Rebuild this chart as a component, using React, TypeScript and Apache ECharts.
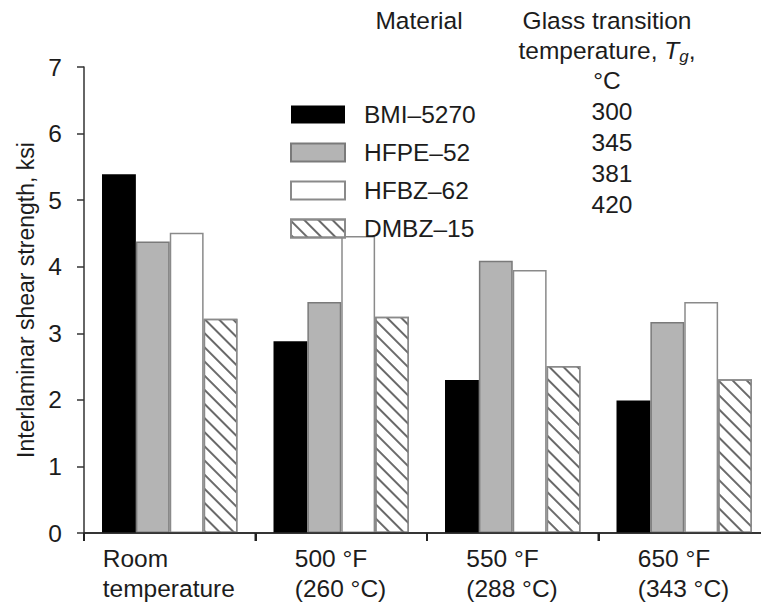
import React, { useEffect, useRef } from "react";
import * as echarts from "echarts";

const categories = ["Room\ntemperature", "500 °F\n(260 °C)", "550 °F\n(288 °C)", "650 °F\n(343 °C)"];
const materials = ["BMI–5270", "HFPE–52", "HFBZ–62", "DMBZ–15"];
const tgValues = ["300", "345", "381", "420"];
const bmi5270 = [5.39, 2.88, 2.3, 1.99];
const hfpe52 = [4.38, 3.47, 4.09, 3.17];
const hfbz62 = [4.51, 4.46, 3.95, 3.47];
const dmbz15 = [3.22, 3.25, 2.51, 2.31];
const seriesValues = [bmi5270, hfpe52, hfbz62, dmbz15];
const yTicks = [0, 1, 2, 3, 4, 5, 6, 7];

const FONT = "'Liberation Sans', Arial, Helvetica, sans-serif";
const FS = 24.5;
const TXT = "#1c1c1c";

function measure(s: string): number {
  const c = document.createElement("canvas").getContext("2d");
  if (!c) return s.length * FS * 0.55;
  c.font = `${FS}px ${FONT}`;
  return c.measureText(s).width;
}

export default function App() {
  const ref = useRef<HTMLDivElement>(null);
  useEffect(() => {
    document.body.style.margin = "0";
    if (!ref.current) return;
    const chart = echarts.init(ref.current, null, { renderer: "svg" });

    const rich: Record<string, any> = {};
    categories.forEach((c, i) => {
      const w = Math.max(...c.split("\n").map(measure));
      rich["c" + i] = { width: Math.ceil(w) + 1, align: "left", fontSize: FS, fontFamily: FONT, color: TXT, lineHeight: 30 };
    });

    const styles = [
      { color: "#000000", borderColor: "#000000", borderWidth: 0 },
      { color: "#b4b4b4", borderColor: "#7a7a7a", borderWidth: 1.5 },
      { color: "#ffffff", borderColor: "#8a8a8a", borderWidth: 1.5 },
      {
        color: "#ffffff",
        borderColor: "#8a8a8a",
        borderWidth: 1.5,
        decal: {
          symbol: "rect",
          symbolSize: 1,
          dashArrayX: [[1, 0]],
          dashArrayY: [1.4, 8],
          rotation: Math.PI / 4,
          color: "#6a6a6a",
        },
      },
    ];

    const graphics: any[] = [
      { type: "text", x: 419, y: 20, style: { text: "Material", fontSize: FS, fontFamily: FONT, fill: TXT, align: "center", verticalAlign: "middle" } },
      { type: "text", x: 607, y: 20, style: { text: "Glass transition", fontSize: FS, fontFamily: FONT, fill: TXT, align: "center", verticalAlign: "middle" } },
      {
        type: "text",
        x: 607,
        y: 50,
        style: {
          text: "temperature, {i|T}{s|g},",
          fontSize: FS,
          fontFamily: FONT,
          fill: TXT,
          align: "center",
          verticalAlign: "middle",
          rich: {
            i: { fontSize: FS, fontStyle: "italic", fontFamily: FONT, fill: TXT },
            s: { fontSize: 17, fontStyle: "italic", fontFamily: FONT, fill: TXT, padding: [12, 0, 0, 0] },
          },
        },
      },
      { type: "text", x: 607, y: 80, style: { text: "°C", fontSize: FS, fontFamily: FONT, fill: TXT, align: "center", verticalAlign: "middle" } },
      ...tgValues.map((v, i) => ({
        type: "text",
        x: 612,
        y: 111 + i * 31,
        style: { text: v, fontSize: FS, fontFamily: FONT, fill: TXT, align: "center", verticalAlign: "middle" },
      })),
    ];

    const axisMarks = {
      type: "custom",
      name: "axisMarks",
      silent: true,
      z: 5,
      clip: false,
      data: categories.map((_, i) => [i, 0]),
      encode: { x: 0, y: 1 },
      renderItem: (params: any, api: any) => {
        const idx = api.value(0);
        const p = api.coord([idx, 0]);
        const band = api.size([1, 0])[0];
        const x = p[0] - band / 2;
        const children: any[] = [
          { type: "line", shape: { x1: x, y1: p[1], x2: x, y2: p[1] + 8 }, style: { stroke: "#222", lineWidth: 2 } },
        ];
        if (idx === 0) {
          children.push({
            type: "line",
            shape: { x1: x, y1: p[1], x2: api.getWidth(), y2: p[1] },
            style: { stroke: "#2a2a2a", lineWidth: 1.6 },
          });
        }
        return { type: "group", children };
      },
    };

    chart.setOption({
      animation: false,
      grid: { left: 84, right: 0, top: 67, bottom: 70 },
      legend: {
        show: true,
        orient: "vertical",
        left: 285,
        top: 97,
        itemWidth: 54,
        itemHeight: 18,
        itemGap: 13,
        icon: "rect",
        data: materials,
        textStyle: { fontSize: FS, fontFamily: FONT, color: TXT, lineHeight: 18, padding: [0, 0, 0, 14] },
      },
      xAxis: {
        type: "category",
        data: categories,
        axisLine: { show: true, lineStyle: { color: "#222", width: 1.6 } },
        axisTick: { show: true, interval: 0, length: 8, lineStyle: { color: "#222", width: 2 } },
        axisLabel: {
          interval: 0,
          margin: 10,
          fontSize: FS,
          fontFamily: FONT,
          color: TXT,
          formatter: (val: string) => {
            const i = categories.indexOf(val);
            return val.split("\n").map((l) => `{c${i}|${l}}`).join("\n");
          },
          rich,
        },
      },
      yAxis: {
        type: "value",
        min: 0,
        max: 7,
        interval: 1,
        name: "Interlaminar shear strength, ksi",
        nameLocation: "middle",
        nameGap: 46,
        nameTextStyle: { fontSize: 23, fontFamily: FONT, color: TXT },
        splitLine: { show: false },
        axisLine: { show: true, lineStyle: { color: "#333", width: 1.5 } },
        axisTick: { show: true, length: 7, lineStyle: { color: "#333", width: 1.5 } },
        axisLabel: {
          margin: 22,
          fontSize: FS,
          fontFamily: FONT,
          color: TXT,
          formatter: (v: number) => (yTicks.includes(v) ? String(v) : ""),
        },
      },
      series: [
        ...materials.map((m, i) => ({
          name: m,
          type: "bar",
          data: seriesValues[i],
          barGap: "0%",
          barCategoryGap: "21%",
          itemStyle: styles[i],
        })),
        axisMarks,
      ],
      graphic: graphics,
    });
    return () => chart.dispose();
  }, []);
  return (
    <div style={{ width: 761, height: 603, overflow: "hidden", position: "relative", background: "#fff" }}>
      <div ref={ref} style={{ width: 770, height: 603 }} />
    </div>
  );
}
